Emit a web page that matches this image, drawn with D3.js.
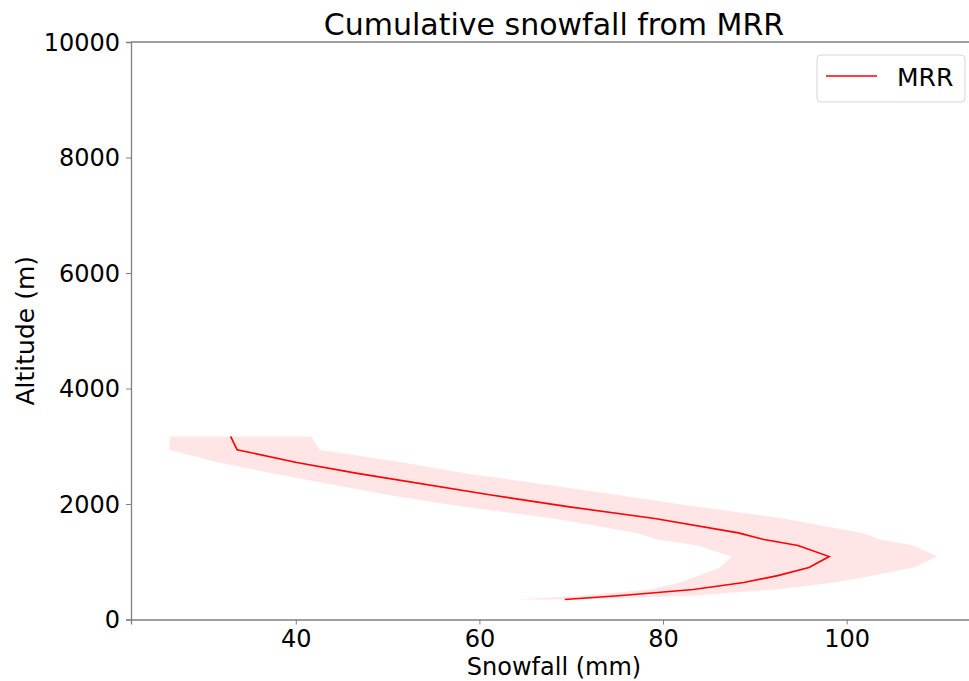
<!DOCTYPE html>
<html>
<head>
<meta charset="utf-8">
<script src="https://cdn.jsdelivr.net/npm/d3@7"></script>
<style>
  body { margin: 0; background: #fff; }
  text { font-family: "DejaVu Sans", sans-serif; fill: #000; }
</style>
</head>
<body>
<script>
// values
var altitude  = [3170, 2940, 2720, 2530, 2160, 1950, 1750, 1500, 1385, 1280, 1090, 900, 760, 640, 520, 415, 345];
var snowMean  = [32.9, 33.6, 40.1, 46.7, 61.1, 69.8, 79.1, 88.2, 91.0, 94.7, 98.1, 95.9, 92.5, 88.8, 83.3, 75.5, 69.3];
var snowLow   = [26.3, 26.2, 31.6, 37.5, 49.9, 58.4, 68.1, 77.1, 79.4, 83.7, 87.5, 86.2, 83.9, 81.9, 78.6, 71.3, 64.1];
var snowHigh  = [41.7, 42.6, 51.7, 58.6, 74.9, 83.9, 93.1, 101.7, 103.6, 107.3, 109.9, 107.3, 102.9, 98.7, 92.3, 83.5, 71.3];
var xTicks = [40, 60, 80, 100];
var yTicks = [0, 2000, 4000, 6000, 8000, 10000];

var W = 969, H = 681;
var mLeft = 131, mRight = 977, mTop = 42, mBottom = 619.5;

var svg = d3.select('body').append('svg')
    .attr('width', W)
    .attr('height', H);

var x = d3.scaleLinear().domain([22.05, 114.2]).range([mLeft, mRight]);
var y = d3.scaleLinear().domain([0, 10000]).range([mBottom, mTop]);

var rows = altitude.map(function(a, i) {
    return {alt: a, mean: snowMean[i], lo: snowLow[i], hi: snowHigh[i]};
});

// shaded band
var area = d3.area()
    .y(function(d) { return y(d.alt); })
    .x0(function(d) { return x(d.lo); })
    .x1(function(d) { return x(d.hi); });

svg.append('path')
    .datum(rows)
    .attr('d', area)
    .attr('fill', '#ff0000')
    .attr('fill-opacity', 0.1)
    .attr('stroke', 'none');

// mean line
var line = d3.line()
    .x(function(d) { return x(d.mean); })
    .y(function(d) { return y(d.alt); });

svg.append('path')
    .datum(rows)
    .attr('d', line)
    .attr('fill', 'none')
    .attr('stroke', '#ff0000')
    .attr('stroke-width', 1.6);

// axes
var xAxis = svg.append('g')
    .attr('transform', 'translate(0,' + mBottom + ')')
    .call(d3.axisBottom(x).tickValues(xTicks).tickFormat(d3.format('d')).tickSize(5).tickPadding(5));
var yAxis = svg.append('g')
    .attr('transform', 'translate(' + mLeft + ',0)')
    .call(d3.axisLeft(y).tickValues(yTicks).tickFormat(d3.format('d')).tickSize(5).tickPadding(6));

[xAxis, yAxis].forEach(function(g) {
    g.select('.domain').attr('stroke', '#808080').attr('stroke-width', 1.3);
    g.selectAll('.tick line').attr('stroke', '#808080');
    g.selectAll('.tick text')
        .style('font-family', '"DejaVu Sans", sans-serif')
        .style('font-size', '24px')
        .attr('fill', '#000');
});
yAxis.selectAll('.tick text').attr('dy', '0.35em');

// top spine
svg.append('line')
    .attr('x1', mLeft).attr('x2', mRight)
    .attr('y1', mTop).attr('y2', mTop)
    .attr('stroke', '#808080')
    .attr('stroke-width', 1.3);

// title and labels
svg.append('text')
    .attr('x', (mLeft + mRight) / 2)
    .attr('y', 35)
    .attr('text-anchor', 'middle')
    .style('font-size', '30px')
    .text('Cumulative snowfall from MRR');

svg.append('text')
    .attr('x', (mLeft + mRight) / 2)
    .attr('y', 675)
    .attr('text-anchor', 'middle')
    .style('font-size', '24px')
    .text('Snowfall (mm)');

svg.append('text')
    .attr('transform', 'translate(34,' + (mTop + mBottom) / 2 + ') rotate(-90)')
    .attr('text-anchor', 'middle')
    .style('font-size', '25px')
    .text('Altitude (m)');

// legend
var lg = svg.append('g').attr('transform', 'translate(817,55)');
lg.append('rect')
    .attr('width', 148).attr('height', 47)
    .attr('rx', 4)
    .attr('fill', '#fff')
    .attr('fill-opacity', 0.8)
    .attr('stroke', '#d6d6d6');
lg.append('line')
    .attr('x1', 9).attr('x2', 60)
    .attr('y1', 21).attr('y2', 21)
    .attr('stroke', '#ff0000')
    .attr('stroke-width', 1.6);
lg.append('text')
    .attr('x', 80)
    .attr('y', 31)
    .style('font-size', '25px')
    .text('MRR');
</script>
</body>
</html>
